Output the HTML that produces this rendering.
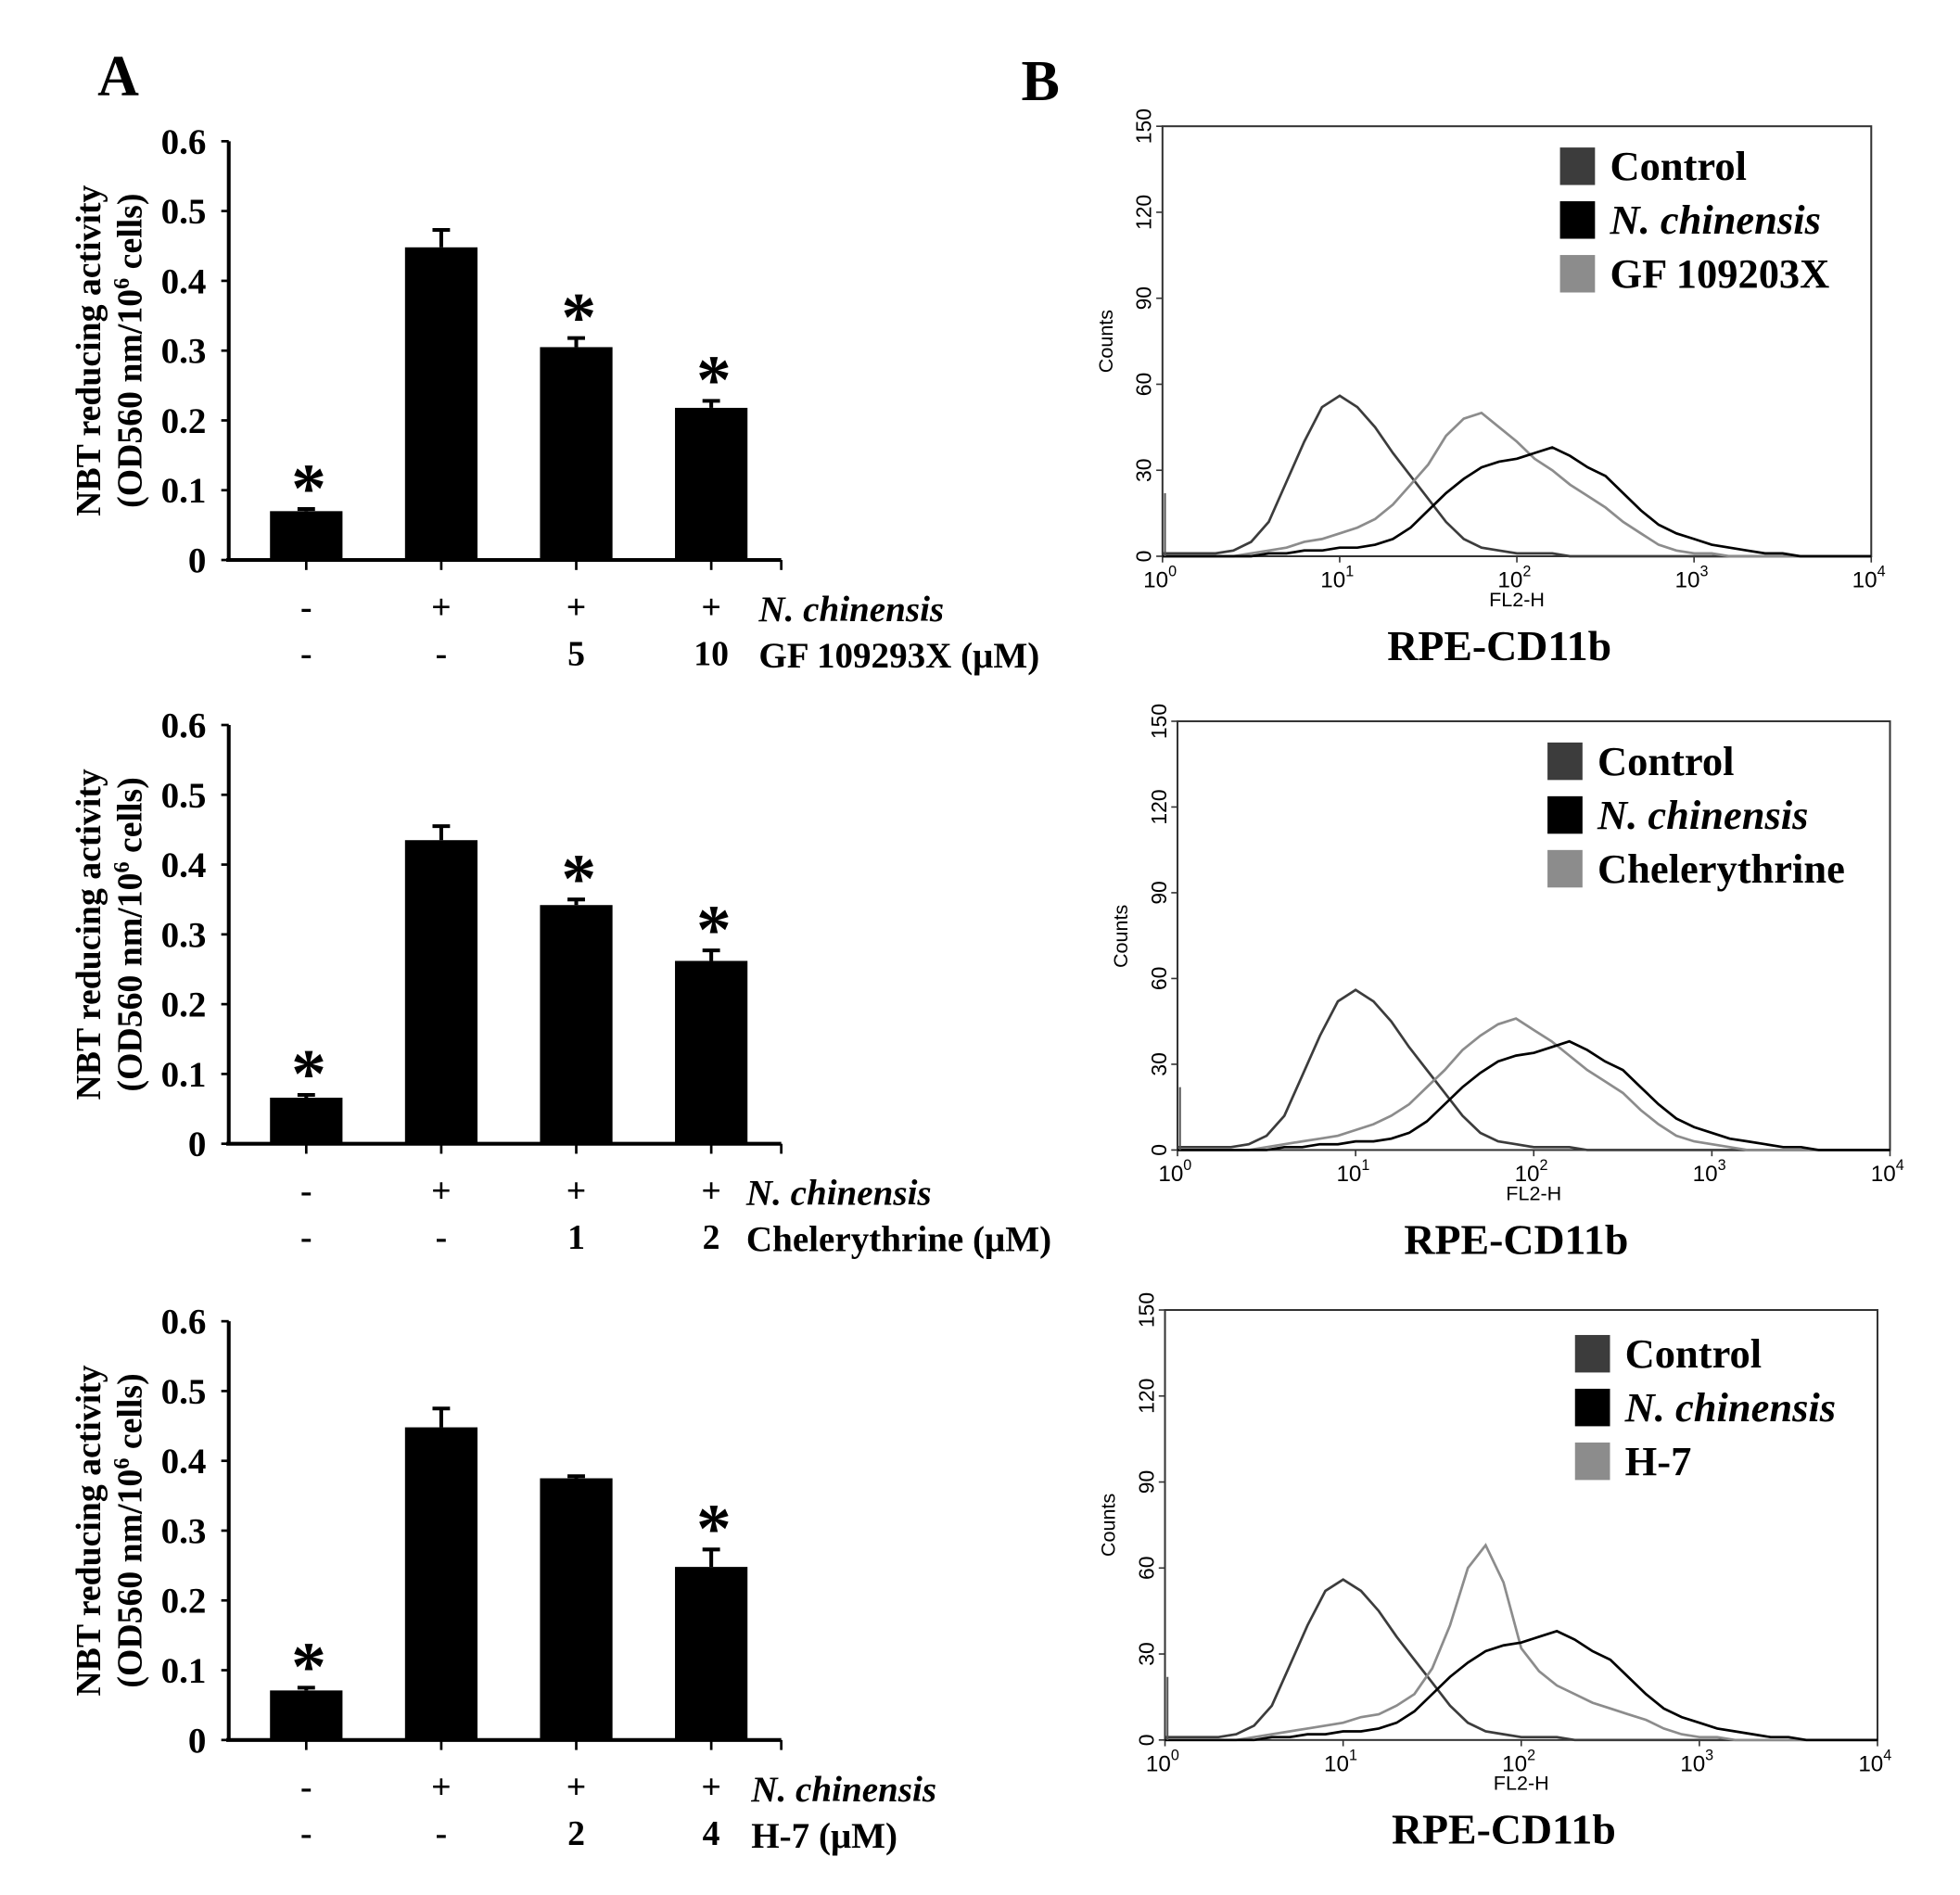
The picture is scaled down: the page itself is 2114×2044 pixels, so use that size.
<!DOCTYPE html>
<html><head><meta charset="utf-8">
<style>
html,body{margin:0;padding:0;background:#fff;}
svg{display:block;}
.serif{font-family:"Liberation Serif",serif;font-weight:bold;}
.sans{font-family:"Liberation Sans",sans-serif;}
</style></head>
<body>
<svg id="fig" width="2114" height="2044" viewBox="0 0 1568 1516" preserveAspectRatio="none" xmlns="http://www.w3.org/2000/svg">
<rect width="1568" height="1516" fill="#fff"/>
<text class="serif" x="78" y="76" font-size="46">A</text>
<text class="serif" x="817" y="80" font-size="46">B</text>
</svg>
<script>
// ---- bar chart data ----
const barCats = ["c1","c2","c3","c4"];
const yTicks = [0,0.1,0.2,0.3,0.4,0.5,0.6];
const yTickLabels = ["0","0.1","0.2","0.3","0.4","0.5","0.6"];
const vals1 = [0.070,0.448,0.305,0.218];
const errs1 = [0.003,0.025,0.013,0.010];
const stars1 = [true,false,true,true];
const vals2 = [0.066,0.435,0.342,0.262];
const errs2 = [0.004,0.020,0.008,0.015];
const stars2 = [true,false,true,true];
const vals3 = [0.071,0.448,0.375,0.248];
const errs3 = [0.004,0.027,0.003,0.025];
const stars3 = [true,false,false,true];
const row1Labels = ["-","+","+","+"];
const row2a = ["-","-","5","10"];
const row2b = ["-","-","1","2"];
const row2c = ["-","-","2","4"];
// ---- histogram data (counts at log10 FL2-H = 0.0,0.1,...,4.0) ----
const logBins = [0,0.1,0.2,0.3,0.4,0.5,0.6,0.7,0.8,0.9,1.0,1.1,1.2,1.3,1.4,1.5,1.6,1.7,1.8,1.9,2.0,2.1,2.2,2.3,2.4,2.5,2.6,2.7,2.8,2.9,3.0,3.1,3.2,3.3,3.4,3.5,3.6,3.7,3.8,3.9,4.0];
const ctrlCounts = [1,1,1,1,2,5,12,26,40,52,56,52,45,36,28,20,12,6,3,2,1,1,1,0,0,0,0,0,0,0,0,0,0,0,0,0,0,0,0,0,0];
const nchCounts  = [0,0,0,0,0,0,1,1,2,2,3,3,4,6,10,16,22,27,31,33,34,36,38,35,31,28,22,16,11,8,6,4,3,2,1,1,0,0,0,0,0];
const gfCounts   = [0,0,0,0,0,1,2,3,5,6,8,10,13,18,25,32,42,48,50,45,40,34,30,25,21,17,12,8,4,2,1,1,0,0,0,0,0,0,0,0,0];
const cheCounts  = [0,0,0,0,0,1,2,3,4,5,7,9,12,16,22,28,35,40,44,46,42,38,33,28,24,20,14,9,5,3,2,1,0,0,0,0,0,0,0,0,0];
const h7Counts   = [0,0,0,0,0,1,2,3,4,5,6,8,9,12,16,25,40,60,68,55,32,24,19,16,13,11,9,7,4,2,1,1,0,0,0,0,0,0,0,0,0];
const histTicks = [0,30,60,90,120,150];

const svg = document.getElementById('fig');
const NS = 'http://www.w3.org/2000/svg';
function mk(tag, attrs, parent){const e=document.createElementNS(NS,tag);for(const k in attrs)e.setAttribute(k,attrs[k]);(parent||svg).appendChild(e);return e;}

function barPanel(top, vals, errs, stars, r2, label2, label2x, pname){
  const g = mk('g',{});
  
  
  const x0=183, x1=625, yTop=top, yBot=top+335;
  const ys = v => yBot - v/0.6*(yBot-yTop);
  const centers = [245,353,461,569];
  const xs = i => centers[i];
  const ax = mk('line',{x1:x0,y1:yTop,x2:x0,y2:yBot,stroke:'#000','stroke-width':3},g);
  
  
  const bx = mk('line',{x1:x0-2,y1:yBot,x2:x1,y2:yBot,stroke:'#000','stroke-width':3},g);
  
  
  mk('line',{x1:x1,y1:yBot,x2:x1,y2:yBot+8,stroke:'#000','stroke-width':2},g);
  yTicks.forEach((t,i)=>{
    mk('line',{x1:x0-6,y1:ys(t),x2:x0,y2:ys(t),stroke:'#000','stroke-width':2},g);
    const tx = mk('text',{x:x0-18,y:ys(t)+10,'text-anchor':'end','font-size':29,class:'serif'},g);
    tx.textContent = yTickLabels[i];
    
    
  });
  const t1 = mk('text',{x:0,y:0,'text-anchor':'middle','font-size':28,class:'serif',transform:`translate(80,${(yTop+yBot)/2}) rotate(-90)`},g);
  t1.textContent='NBT reducing activity';
  
  
  const t2 = mk('text',{x:0,y:0,'text-anchor':'middle','font-size':28,class:'serif',transform:`translate(113,${(yTop+yBot)/2}) rotate(-90)`},g);
  t2.innerHTML='(OD560 nm/10<tspan font-size="18" dy="-10">6</tspan><tspan dy="10"> cells)</tspan>';
  
  
  barCats.forEach((c,i)=>{
    const cx=xs(i), w=58;
    const b = mk('rect',{x:cx-w/2,y:ys(vals[i]),width:w,height:yBot-ys(vals[i]),fill:'#000'},g);
    
    
    const et = ys(vals[i]+errs[i]);
    const e = mk('line',{x1:cx,y1:et,x2:cx,y2:ys(vals[i]),stroke:'#000','stroke-width':3},g);
    
    
    mk('line',{x1:cx-7,y1:et,x2:cx+7,y2:et,stroke:'#000','stroke-width':3},g);
    mk('line',{x1:cx,y1:yBot,x2:cx,y2:yBot+8,stroke:'#000','stroke-width':2},g);
    if(stars[i]){
      const s = mk('text',{x:cx+2,y:et+2,'text-anchor':'middle','font-size':56,class:'serif'},g);
      s.textContent='*';
      
      
    }
    const l1 = mk('text',{x:cx,y:yBot+47,'text-anchor':'middle','font-size':28,class:'serif'},g);
    l1.textContent=row1Labels[i];
    
    
    const l2 = mk('text',{x:cx,y:yBot+84,'text-anchor':'middle','font-size':28,class:'serif'},g);
    l2.textContent=r2[i];
    
    
  });
  const n = mk('text',{x:label2x,y:yBot+49,'font-size':29,class:'serif','font-style':'italic'},g);
  n.textContent='N. chinensis';
  
  
  const d = mk('text',{x:label2x,y:yBot+86,'font-size':29,class:'serif'},g);
  d.textContent=label2;
  
  
}
barPanel(113, vals1, errs1, stars1, row2a, 'GF 109293X (μM)', 607, 'bar-chart-gf');
barPanel(580, vals2, errs2, stars2, row2b, 'Chelerythrine (μM)', 597, 'bar-chart-chelerythrine');
barPanel(1057, vals3, errs3, stars3, row2c, 'H-7 (μM)', 601, 'bar-chart-h7');

function histPanel(bx0,by0,bx1,by1,third,thirdName,legX,legY,pname){
  const g = mk('g',{});
  
  
  const xs = l => bx0 + l/4*(bx1-bx0);
  const ys = c => by1 - c/150*(by1-by0);
  const fr = mk('rect',{x:bx0,y:by0,width:bx1-bx0,height:by1-by0,fill:'none',stroke:'#333','stroke-width':1.5},g);
  
  
  histTicks.forEach(t=>{
    mk('line',{x1:bx0-5,y1:ys(t),x2:bx0,y2:ys(t),stroke:'#333','stroke-width':1.2},g);
    const tx = mk('text',{x:0,y:0,'text-anchor':'middle','font-size':17,class:'sans',transform:`translate(${bx0-9},${ys(t)}) rotate(-90)`},g);
    tx.textContent=t;
    
    
  });
  for(let dd=0; dd<=4; dd++){
    mk('line',{x1:xs(dd),y1:by1,x2:xs(dd),y2:by1+5,stroke:'#333','stroke-width':1.2},g);
    const tx = mk('text',{x:xs(dd)-2,y:by1+25,'text-anchor':'middle','font-size':18,class:'sans'},g);
    tx.innerHTML='10<tspan font-size="12" dy="-9">'+dd+'</tspan>';
    
    
  }
  const yl = mk('text',{x:0,y:0,'text-anchor':'middle','font-size':16,class:'sans',transform:`translate(${bx0-40},${by0+172}) rotate(-90)`},g);
  yl.textContent='Counts';
  
  
  const xl = mk('text',{x:(bx0+bx1)/2,y:by1+40,'text-anchor':'middle','font-size':16,class:'sans'},g);
  xl.textContent='FL2-H';
  
  
  const rp = mk('text',{x:(bx0+bx1)/2-14,y:by1+83,'text-anchor':'middle','font-size':34,class:'serif'},g);
  rp.textContent='RPE-CD11b';
  
  
  const series = [[ctrlCounts,'#3c3c3c','control-histogram'],[third,'#8c8c8c','inhibitor-histogram'],[nchCounts,'#000','n-chinensis-histogram']];
  series.forEach(s=>{
    const pts = logBins.map((l,i)=>xs(l).toFixed(1)+','+ys(s[0][i]).toFixed(1)).join(' ');
    const p = mk('polyline',{points:pts,fill:'none',stroke:s[1],'stroke-width':2},g);
    
    
  });
  mk('line',{x1:bx0+2,y1:by1,x2:bx0+2,y2:ys(22),stroke:'#555','stroke-width':1.5},g);
  const legs=[['Control','#3c3c3c',false],['N. chinensis','#000',true],[thirdName,'#8c8c8c',false]];
  legs.forEach((L,i)=>{
    const y=legY+i*43;
    const sw = mk('rect',{x:legX,y:y-15,width:28,height:30,fill:L[1]},g);
    
    
    const t = mk('text',{x:legX+40,y:y+11,'font-size':33,class:'serif','font-style':L[2]?'italic':'normal'},g);
    t.textContent=L[0];
    
    
  });
}
histPanel(930,101,1497,445,gfCounts,'GF 109203X',1248,133,'histogram-gf');
histPanel(942,577,1512,920,cheCounts,'Chelerythrine',1238,609,'histogram-chelerythrine');
histPanel(932,1048,1502,1392,h7Counts,'H-7',1260,1083,'histogram-h7');
</script>
</body></html>
